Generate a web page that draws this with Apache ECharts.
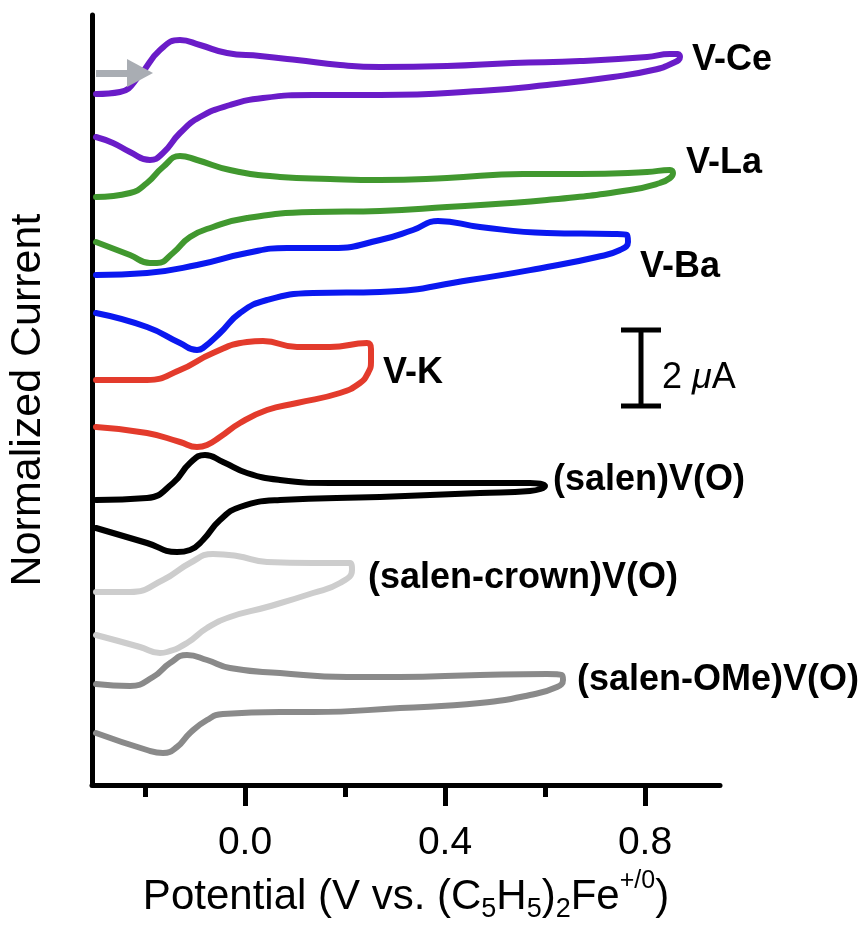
<!DOCTYPE html>
<html>
<head>
<meta charset="utf-8">
<script src="https://cdn.jsdelivr.net/npm/echarts@6.0.0/dist/echarts.min.js"></script>
<style>
  html, body { margin: 0; padding: 0; background: #fff; }
  #main { width: 867px; height: 927px; }
</style>
</head>
<body>
<div id="main"></div>
<script>
// potential ticks (V vs Fc+/0)
const majorTicks = [0, 0.4, 0.8];
const minorTicks = [-0.2, 0.2, 0.6];

// CV loops: [potential, normalized current + offset], forward scan then return scan
const vCe = [[-0.298,69.1],[-0.25,69.3],[-0.21,71.0],[-0.17,73.5],[-0.13,74.5],[-0.09,74.0],[-0.036,73.2],[0.03,72.9],[0.104,72.5],[0.19,72.0],[0.27,71.8],[0.404,71.9],[0.536,72.2],[0.67,72.4],[0.804,72.8],[0.85,73.1],[0.866,73.1],[0.87,72.8],[0.856,72.2],[0.816,71.5],[0.736,70.8],[0.604,70.0],[0.47,69.4],[0.27,69.0],[0.136,69.0],[0.036,68.7],[-0.03,68.0],[-0.09,66.8],[-0.13,65.2],[-0.164,63.2],[-0.19,62.5],[-0.23,63.3],[-0.264,64.2],[-0.298,64.8]];
const vLa = [[-0.298,58.8],[-0.23,59.2],[-0.196,60.2],[-0.164,61.8],[-0.13,62.9],[-0.096,62.5],[-0.03,61.5],[0.07,60.8],[0.17,60.6],[0.27,60.5],[0.404,60.7],[0.556,61.1],[0.67,61.1],[0.804,61.3],[0.85,61.5],[0.856,61.2],[0.85,60.7],[0.83,60.2],[0.77,59.5],[0.604,58.5],[0.404,57.8],[0.27,57.4],[0.136,57.3],[0.004,56.7],[-0.064,55.8],[-0.11,54.8],[-0.144,53.2],[-0.176,52.2],[-0.19,52.2],[-0.23,53.0],[-0.298,54.3]];
const vBa = [[-0.298,51.0],[-0.196,51.2],[-0.096,52.0],[0.004,53.2],[0.084,53.7],[0.176,53.7],[0.27,54.5],[0.336,55.5],[0.386,56.4],[0.47,55.8],[0.604,55.2],[0.736,55.1],[0.764,55.0],[0.766,54.3],[0.75,53.5],[0.704,52.8],[0.604,51.8],[0.45,50.5],[0.27,49.3],[0.136,49.2],[0.044,48.5],[-0.01,47.2],[-0.05,45.2],[-0.084,43.7],[-0.096,43.5],[-0.13,44.2],[-0.196,45.8],[-0.298,47.2]];
const vK = [[-0.298,40.5],[-0.196,40.5],[-0.13,41.5],[-0.064,43.2],[0.004,44.3],[0.036,44.4],[0.104,43.8],[0.17,43.8],[0.244,44.2],[0.252,43.6],[0.252,42.3],[0.246,41.2],[0.23,40.2],[0.19,39.2],[0.104,38.2],[0.044,37.5],[-0.01,36.2],[-0.05,34.8],[-0.076,34.0],[-0.096,33.8],[-0.13,34.3],[-0.196,35.2],[-0.298,35.8]];
const salen = [[-0.298,28.5],[-0.196,28.7],[-0.144,30.2],[-0.11,32.2],[-0.08,33.0],[-0.044,32.3],[0.004,31.2],[0.07,30.5],[0.17,30.2],[0.27,30.2],[0.47,30.2],[0.57,30.2],[0.6,29.9],[0.57,29.4],[0.47,29.2],[0.27,28.8],[0.07,28.5],[-0.01,27.8],[-0.05,26.5],[-0.084,24.5],[-0.11,23.5],[-0.136,23.3],[-0.196,24.2],[-0.298,25.7]];
const salenCrown = [[-0.298,19.3],[-0.23,19.3],[-0.164,20.5],[-0.11,22.2],[-0.064,23.1],[-0.016,22.9],[0.044,22.3],[0.136,22.2],[0.21,22.2],[0.214,21.5],[0.19,20.2],[0.136,19.2],[0.044,17.8],[-0.03,16.8],[-0.076,15.7],[-0.116,14.2],[-0.156,13.3],[-0.17,13.2],[-0.21,13.8],[-0.298,15.0]];
const salenOMe = [[-0.298,10.1],[-0.23,9.9],[-0.184,10.8],[-0.15,12.2],[-0.116,13.0],[-0.076,12.5],[-0.03,11.7],[0.07,11.2],[0.204,10.8],[0.31,10.8],[0.47,11.0],[0.604,11.1],[0.634,11.0],[0.636,10.5],[0.624,9.8],[0.57,9.0],[0.47,8.2],[0.31,7.7],[0.136,7.3],[0.07,7.3],[-0.044,7.1],[-0.076,6.5],[-0.11,5.2],[-0.136,3.8],[-0.164,3.2],[-0.196,3.5],[-0.298,5.2]];

const curveNames = ['V-Ce', 'V-La', 'V-Ba', 'V-K', '(salen)V(O)', '(salen-crown)V(O)', '(salen-OMe)V(O)'];
const curveData = [vCe, vLa, vBa, vK, salen, salenCrown, salenOMe];
const curveColors = ['#6a1cc8', '#41982f', '#0a18f0', '#e33b2c', '#000000', '#cdcdcd', '#8a8a8a'];

// label anchors (left edge of text)
const labelE = [0.894, 0.882, 0.79, 0.276, 0.616, 0.246, 0.664];
const labelI = [72.5, 62.2, 51.8, 41.2, 30.5, 20.7, 10.5];

// 2 uA scale bar and scan-direction arrow
const scaleBar = [0.792, 37.9, 45.5];
const scaleLabelPos = [0.834, 40.7];
const arrowE = [-0.298, -0.21];
const arrowI = 71.2;

const FONT = '"Liberation Sans", Arial, Helvetica, sans-serif';

var chart = echarts.init(document.getElementById('main'), null, { renderer: 'canvas' });

var series = [];
for (var i = 0; i < curveData.length; i++) {
    series.push({
        name: curveNames[i],
        type: 'line',
        data: curveData[i],
        smooth: 0.5,
        symbol: 'none',
        showSymbol: false,
        lineStyle: { color: curveColors[i], width: 6, cap: 'round', join: 'round' },
        z: 3
    });
}

series.push({
    type: 'scatter',
    symbolSize: 0,
    itemStyle: { opacity: 1 },
    data: curveNames.map(function (n, k) { return { name: n, value: [labelE[k], labelI[k]] }; }),
    label: {
        show: true,
        position: 'right',
        distance: 0,
        formatter: '{b}',
        color: '#000',
        opacity: 1,
        fontFamily: FONT,
        fontWeight: 'bold',
        fontSize: 36
    },
    z: 4
});

series.push({
    type: 'custom',
    data: [scaleBar],
    renderItem: function (params, api) {
        var b = api.coord([api.value(0), api.value(1)]);
        var t = api.coord([api.value(0), api.value(2)]);
        var w = 20;
        var st = { stroke: '#000', lineWidth: 5 };
        return {
            type: 'group',
            children: [
                { type: 'line', shape: { x1: b[0], y1: b[1], x2: t[0], y2: t[1] }, style: st },
                { type: 'line', shape: { x1: b[0] - w, y1: b[1], x2: b[0] + w, y2: b[1] }, style: st },
                { type: 'line', shape: { x1: t[0] - w, y1: t[1], x2: t[0] + w, y2: t[1] }, style: st }
            ]
        };
    },
    z: 4
});

series.push({
    type: 'scatter',
    symbolSize: 0,
    itemStyle: { opacity: 1 },
    data: [{ value: scaleLabelPos }],
    label: {
        show: true,
        position: 'right',
        distance: 0,
        formatter: '2 {i|μ}A',
        color: '#000',
        opacity: 1,
        fontFamily: FONT,
        fontSize: 36,
        rich: { i: { fontStyle: 'italic', fontFamily: FONT, fontSize: 36, color: '#000' } }
    },
    markLine: {
        silent: true,
        symbol: ['none', 'triangle'],
        symbolSize: [28, 26],
        label: { show: false },
        lineStyle: { color: '#a9adb3', width: 7, type: 'solid', opacity: 1 },
        data: [[{ coord: [arrowE[0], arrowI] }, { coord: [arrowE[1], arrowI] }]]
    },
    z: 4
});

var option = {
    animation: false,
    backgroundColor: '#fff',
    grid: { left: 92, right: 147, top: 15, bottom: 142, containLabel: false, outerBoundsMode: 'none' },
    xAxis: [{
        type: 'value',
        position: 'bottom',
        min: -0.306,
        max: 0.95,
        name: 'Potential (V vs. (C{sub|5}H{sub|5}){sub|2}Fe{sup|+/0})',
        nameLocation: 'middle',
        nameGap: 80,
        nameTextStyle: {
            color: '#000', fontFamily: FONT, fontSize: 42, lineHeight: 60, verticalAlign: 'top',
            rich: {
                sub: { fontFamily: FONT, fontSize: 27, lineHeight: 27, padding: [24, 0, 0, 0], color: '#000' },
                sup: { fontFamily: FONT, fontSize: 25, lineHeight: 25, padding: [0, 0, 34, 0], color: '#000' }
            }
        },
        axisLine: { show: true, onZero: false, lineStyle: { color: '#000', width: 5 } },
        axisTick: { show: true, customValues: majorTicks, length: 21, lineStyle: { color: '#000', width: 5 } },
        axisLabel: {
            show: true, customValues: majorTicks, margin: 39,
            formatter: function (v) { return v.toFixed(1); },
            color: '#000', fontFamily: FONT, fontSize: 39
        },
        splitLine: { show: false }
    }, {
        type: 'value',
        position: 'bottom',
        min: -0.306,
        max: 0.95,
        axisLine: { show: false, onZero: false },
        axisTick: { show: true, customValues: minorTicks, length: 12, lineStyle: { color: '#000', width: 5 } },
        axisLabel: { show: false },
        splitLine: { show: false }
    }],
    yAxis: {
        type: 'value',
        min: 0,
        max: 77,
        name: 'Normalized Current',
        nameLocation: 'middle',
        nameGap: 42,
        nameTextStyle: { color: '#000', fontFamily: FONT, fontSize: 43 },
        axisLine: { show: true, onZero: false, lineStyle: { color: '#000', width: 5 } },
        axisTick: { show: false },
        axisLabel: { show: false },
        splitLine: { show: false }
    },
    series: series
};

chart.setOption(option);
</script>
</body>
</html>
